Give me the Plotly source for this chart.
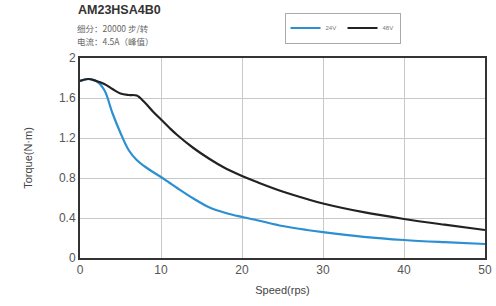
import plotly.graph_objects as go

speed = [0, 1, 2, 3, 4, 5, 6, 7, 8, 9, 10, 11, 12, 14, 16, 18, 20, 22, 25, 28, 30, 35, 40, 45, 50]
torque_24v = [1.77, 1.79, 1.77, 1.68, 1.45, 1.25, 1.08, 0.98, 0.915, 0.86, 0.81, 0.755, 0.70, 0.595, 0.505,
              0.45, 0.41, 0.375, 0.32, 0.28, 0.258, 0.212, 0.18, 0.158, 0.14]
torque_48v = [1.77, 1.79, 1.77, 1.74, 1.69, 1.645, 1.63, 1.625, 1.555, 1.465, 1.385, 1.305, 1.23, 1.10, 0.99,
              0.895, 0.82, 0.755, 0.665, 0.59, 0.545, 0.458, 0.39, 0.333, 0.28]
x_ticks = [0, 10, 20, 30, 40, 50]
y_ticks = [0, 0.4, 0.8, 1.2, 1.6, 2]
y_tick_labels = ["0", "0.4", "0.8", "1.2", "1.6", "2"]

fig = go.Figure()
fig.add_trace(go.Scatter(x=speed, y=torque_24v, name="24V", mode="lines",
                         line=dict(color="#2b8fd2", width=2.2, shape="spline", smoothing=1)))
fig.add_trace(go.Scatter(x=speed, y=torque_48v, name="48V", mode="lines",
                         line=dict(color="#222222", width=2.2, shape="spline", smoothing=1)))

fig.update_layout(
    width=496, height=306,
    margin=dict(l=80, r=11, t=58, b=48, autoexpand=False),
    paper_bgcolor="white", plot_bgcolor="white",
    font=dict(family="Liberation Sans, Arial, sans-serif", color="#555555", size=12),
    showlegend=True,
    legend=dict(orientation="h", x=0.505, y=1.15, xanchor="left", yanchor="middle",
                bordercolor="#aaaaaa", borderwidth=1, bgcolor="white",
                font=dict(size=6, color="#777777"), itemwidth=30,
                entrywidth=12, entrywidthmode="pixels", tracegroupgap=0),
    xaxis=dict(range=[0, 50], tickvals=x_ticks, ticktext=[str(v) for v in x_ticks],
               showgrid=True, gridcolor="#c8c8c8", gridwidth=1, automargin=False,
               showline=True, linecolor="#333333", linewidth=2, mirror=True,
               zeroline=False, ticks="", tickfont=dict(size=12, color="#555555"),
               title=dict(text="Speed(rps)", font=dict(size=11, color="#444444"), standoff=10)),
    yaxis=dict(range=[0, 2], tickvals=y_ticks, ticktext=y_tick_labels,
               showgrid=True, gridcolor="#c8c8c8", gridwidth=1, automargin=False,
               showline=True, linecolor="#333333", linewidth=2, mirror=True,
               zeroline=False, ticks="", tickfont=dict(size=12, color="#555555"),
               title=dict(text="Torque(N·m)", font=dict(size=11, color="#444444"), standoff=24)),
)

fig.add_annotation(text="<b>AM23HSA4B0</b>", xref="paper", yref="paper", x=-0.01, y=1.195,
                   xanchor="left", yanchor="bottom", showarrow=False,
                   font=dict(size=12.5, color="#333333", family="Liberation Sans, Arial"))
fig.add_annotation(text="细分：20000 步/转", xref="paper", yref="paper", x=-0.012, y=1.19,
                   xanchor="left", yanchor="top", showarrow=False,
                   font=dict(size=8.5, color="#666666", family="Noto Sans CJK SC"))
fig.add_annotation(text="电流：4.5A（峰值）", xref="paper", yref="paper", x=-0.012, y=1.125,
                   xanchor="left", yanchor="top", showarrow=False,
                   font=dict(size=8.5, color="#666666", family="Noto Sans CJK SC"))

fig.write_html("out.html", config={"displayModeBar": False},
               post_script="document.body.style.margin='0';")
